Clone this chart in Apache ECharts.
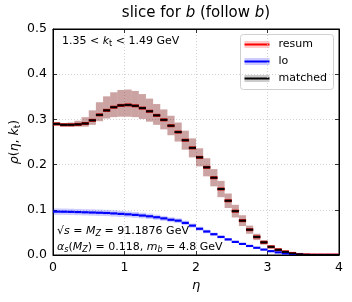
<!DOCTYPE html>
<html><head><meta charset="utf-8">
<script src="https://cdn.jsdelivr.net/npm/echarts@6/dist/echarts.min.js"></script>
<style>html,body{margin:0;padding:0;background:#fff}#c{width:352px;height:302px}</style>
</head><body><div id="c"></div>
<script>
// bin edges in eta
const etaEdges = [0.0,0.1,0.2,0.3,0.4,0.5,0.6,0.7,0.8,0.9,1.0,1.1,1.2,1.3,1.4,1.5,1.6,1.7,1.8,1.9,2.0,
  2.1,2.2,2.3,2.4,2.5,2.6,2.7,2.8,2.9,3.0,3.1,3.2,3.3,3.4,3.5,3.6,3.7,3.8,3.9,4.0];
// resum central values
const resum = [0.290,0.288,0.288,0.289,0.291,0.298,0.310,0.320,0.327,0.331,
  0.332,0.330,0.325,0.318,0.309,0.299,0.286,0.272,0.254,0.237,
  0.216,0.194,0.171,0.146,0.120,0.097,0.076,0.056,0.040,0.028,
  0.018,0.0115,0.007,0.0035,0.0012,0.0003,0,0,0,0];
const resumUp = [0.004,0.004,0.005,0.008,0.014,0.022,0.028,0.031,0.033,0.034,
  0.034,0.033,0.031,0.028,0.025,0.023,0.022,0.021,0.021,0.021,
  0.020,0.020,0.019,0.018,0.016,0.014,0.012,0.009,0.007,0.005,
  0.0035,0.0025,0.0015,0.001,0.0005,0,0,0,0,0];
const resumDown = [0.004,0.004,0.004,0.005,0.007,0.010,0.014,0.018,0.022,0.025,
  0.026,0.025,0.024,0.023,0.021,0.021,0.021,0.021,0.021,0.021,
  0.020,0.020,0.019,0.018,0.016,0.014,0.012,0.009,0.007,0.005,
  0.0035,0.0025,0.0015,0.001,0.0005,0,0,0,0,0];
// matched central values
const matched = [0.290,0.288,0.288,0.289,0.291,0.298,0.310,0.320,0.327,0.331,
  0.332,0.330,0.325,0.318,0.309,0.299,0.286,0.272,0.254,0.237,
  0.216,0.194,0.171,0.146,0.120,0.097,0.076,0.056,0.040,0.028,
  0.018,0.0115,0.007,0.0035,0.0012,0.0003,0,0,0,0];
const matchedUp = resumUp;
const matchedDown = resumDown;
// lo values
const lo = [0.096,0.0958,0.0955,0.095,0.0945,0.094,0.0935,0.093,0.092,0.091,
  0.090,0.0888,0.0873,0.0856,0.0835,0.081,0.078,0.076,0.071,0.065,
  0.058,0.052,0.046,0.040,0.0345,0.029,0.0245,0.020,0.016,0.012,
  0.0085,0.0058,0.0035,0.0018,0.0007,0,0,0,0,0];
const loErr = [0.007,0.007,0.007,0.007,0.007,0.007,0.007,0.007,0.007,0.0068,
  0.0066,0.0064,0.0062,0.006,0.0058,0.0056,0.0054,0.0052,0.005,0.0047,
  0.0044,0.004,0.0036,0.0032,0.0028,0.0024,0.002,0.0016,0.0013,0.001,
  0.0007,0.0005,0.0003,0.0002,0.0001,0,0,0,0,0];
const xTicks = [0,1,2,3,4];
const yTicks = [0,0.1,0.2,0.3,0.4,0.5];

const FONT = 'DejaVu Sans';
function bandData(v, up, dn){ return v.map((y,i)=>[etaEdges[i],etaEdges[i+1],y-dn[i],y+up[i]]); }
function segData(v){ return v.map((y,i)=>[etaEdges[i],etaEdges[i+1],y]); }
function bandSeries(name, data, fill){
  return {type:'custom', name, data, clip:true, encode:{x:[0,1],y:[2,3]},
    renderItem:(params, api)=>{
      const p0 = api.coord([api.value(0), api.value(3)]);
      const p1 = api.coord([api.value(1), api.value(2)]);
      return {type:'rect', shape:{x:p0[0], y:p0[1], width:p1[0]-p0[0], height:p1[1]-p0[1]},
        style:{fill}};
    }};
}
function segSeries(name, data, stroke, lw){
  return {type:'custom', name, data, clip:true, encode:{x:[0,1],y:2},
    renderItem:(params, api)=>{
      const a = api.coord([api.value(0), api.value(2)]);
      const b = api.coord([api.value(1), api.value(2)]);
      return {type:'line', shape:{x1:a[0], y1:a[1], x2:b[0], y2:b[1]},
        style:{stroke, lineWidth:lw}};
    }};
}
function richSet(size, subSize, subPad){
  return {
    n:{fontFamily:FONT, fontSize:size, fontWeight:'normal', color:'#000'},
    i:{fontFamily:FONT, fontSize:size, fontWeight:'normal', fontStyle:'italic', color:'#000'},
    s:{fontFamily:FONT, fontSize:subSize, fontWeight:'normal', color:'#000', padding:[subPad,0,0,0]},
    si:{fontFamily:FONT, fontSize:subSize, fontWeight:'normal', fontStyle:'italic', color:'#000', padding:[subPad,0,0,0]}
  };
}

const chart = echarts.init(document.getElementById('c'), null, {renderer:'canvas'});
const tickStyle = {show:true, inside:true, length:4, lineStyle:{color:'#000', width:0.8}};
const gridLine = {show:true, lineStyle:{color:'#c8c8c8', width:0.8, type:[1,2]}};
chart.setOption({
  animation:false,
  backgroundColor:'#fff',
  grid:{left:53, top:29, width:286, height:226, show:true, borderColor:'#000', borderWidth:1, backgroundColor:'transparent'},
  title:[
    {text:'{n|slice for }{i|b}{n| (follow }{i|b}{n|)}', left:196, top:6, padding:0, textAlign:'center',
     textStyle:{rich:richSet(15, 10, 5)}},
    {text:'{n|1.35 < }{i|k}{s|t}{n| < 1.49 GeV}', left:62, top:35, padding:0,
     textStyle:{rich:richSet(11, 8, 5)}},
    {text:'{n|√}{i|s}{n| = }{i|M}{si|Z}{n| = 91.1876 GeV}', left:57, top:225, padding:0,
     textStyle:{rich:richSet(11, 8, 5)}},
    {text:'{i|α}{si|s}{n|(}{i|M}{si|Z}{n|) = 0.118, }{i|m}{si|b}{n| = 4.8 GeV}', left:57, top:241, padding:0,
     textStyle:{rich:richSet(11, 8, 5)}}
  ],
  xAxis:[
    {type:'value', min:0, max:4, interval:1, position:'bottom',
     name:'η', nameLocation:'middle', nameGap:22, nameTextStyle:{fontFamily:FONT, fontSize:13, fontStyle:'italic', color:'#000'},
     axisLine:{show:true, onZero:false, lineStyle:{color:'#000', width:1}}, axisTick:tickStyle,
     axisLabel:{fontFamily:FONT, fontSize:12.5, color:'#000', margin:6}, splitLine:gridLine},
    {type:'value', min:0, max:4, interval:1, position:'top',
     axisLine:{show:true, onZero:false, lineStyle:{color:'#000', width:1}}, axisTick:tickStyle,
     axisLabel:{show:false}, splitLine:{show:false}}
  ],
  yAxis:[
    {type:'value', min:0, max:0.5, interval:0.1, position:'left',
     axisLine:{show:true, onZero:false, lineStyle:{color:'#000', width:1}}, axisTick:tickStyle,
     axisLabel:{fontFamily:FONT, fontSize:12.5, color:'#000', margin:6, formatter:v=>v.toFixed(1)}, splitLine:gridLine},
    {type:'value', min:0, max:0.5, interval:0.1, position:'right',
     axisLine:{show:true, onZero:false, lineStyle:{color:'#000', width:1}}, axisTick:tickStyle,
     axisLabel:{show:false}, splitLine:{show:false}}
  ],
  series:[
    bandSeries('resum band', bandData(resum, resumUp, resumDown), 'rgba(255,0,0,0.2)'),
    segSeries('resum', segData(resum), '#ff0000', 3),
    bandSeries('lo band', bandData(lo, loErr, loErr), 'rgba(0,0,255,0.2)'),
    segSeries('lo', segData(lo), '#0000ff', 2.2),
    bandSeries('matched band', bandData(matched, matchedUp, matchedDown), 'rgba(0,0,0,0.2)'),
    segSeries('matched', segData(matched), '#000000', 2)
  ],
  graphic:[
    {type:'text', x:15, y:142, rotation:Math.PI/2,
     style:{text:'{i|ρ}{n|(}{i|η}{n|, }{i|k}{s|t}{n|)}', rich:richSet(12.5, 9, 5), align:'center', verticalAlign:'middle'}},
    {type:'group', left:240, top:34, children:[
      {type:'rect', shape:{x:0, y:0, width:93, height:55, r:3}, style:{fill:'rgba(255,255,255,0.85)', stroke:'#d0d0d0', lineWidth:1}},
      {type:'rect', shape:{x:4, y:6.5, width:25, height:7}, style:{fill:'rgba(255,0,0,0.2)'}},
      {type:'line', shape:{x1:4, y1:10, x2:29, y2:10}, style:{stroke:'#ff0000', lineWidth:2}},
      {type:'text', x:38, y:10, style:{text:'resum', fontFamily:FONT, fontSize:11, fill:'#000', verticalAlign:'middle'}},
      {type:'rect', shape:{x:4, y:23.5, width:25, height:7}, style:{fill:'rgba(0,0,255,0.2)'}},
      {type:'line', shape:{x1:4, y1:27, x2:29, y2:27}, style:{stroke:'#0000ff', lineWidth:2}},
      {type:'text', x:38, y:27, style:{text:'lo', fontFamily:FONT, fontSize:11, fill:'#000', verticalAlign:'middle'}},
      {type:'rect', shape:{x:4, y:40.5, width:25, height:7}, style:{fill:'rgba(0,0,0,0.2)'}},
      {type:'line', shape:{x1:4, y1:44, x2:29, y2:44}, style:{stroke:'#000000', lineWidth:2}},
      {type:'text', x:38, y:44, style:{text:'matched', fontFamily:FONT, fontSize:11, fill:'#000', verticalAlign:'middle'}}
    ]}
  ]
});
</script>
</body></html>
